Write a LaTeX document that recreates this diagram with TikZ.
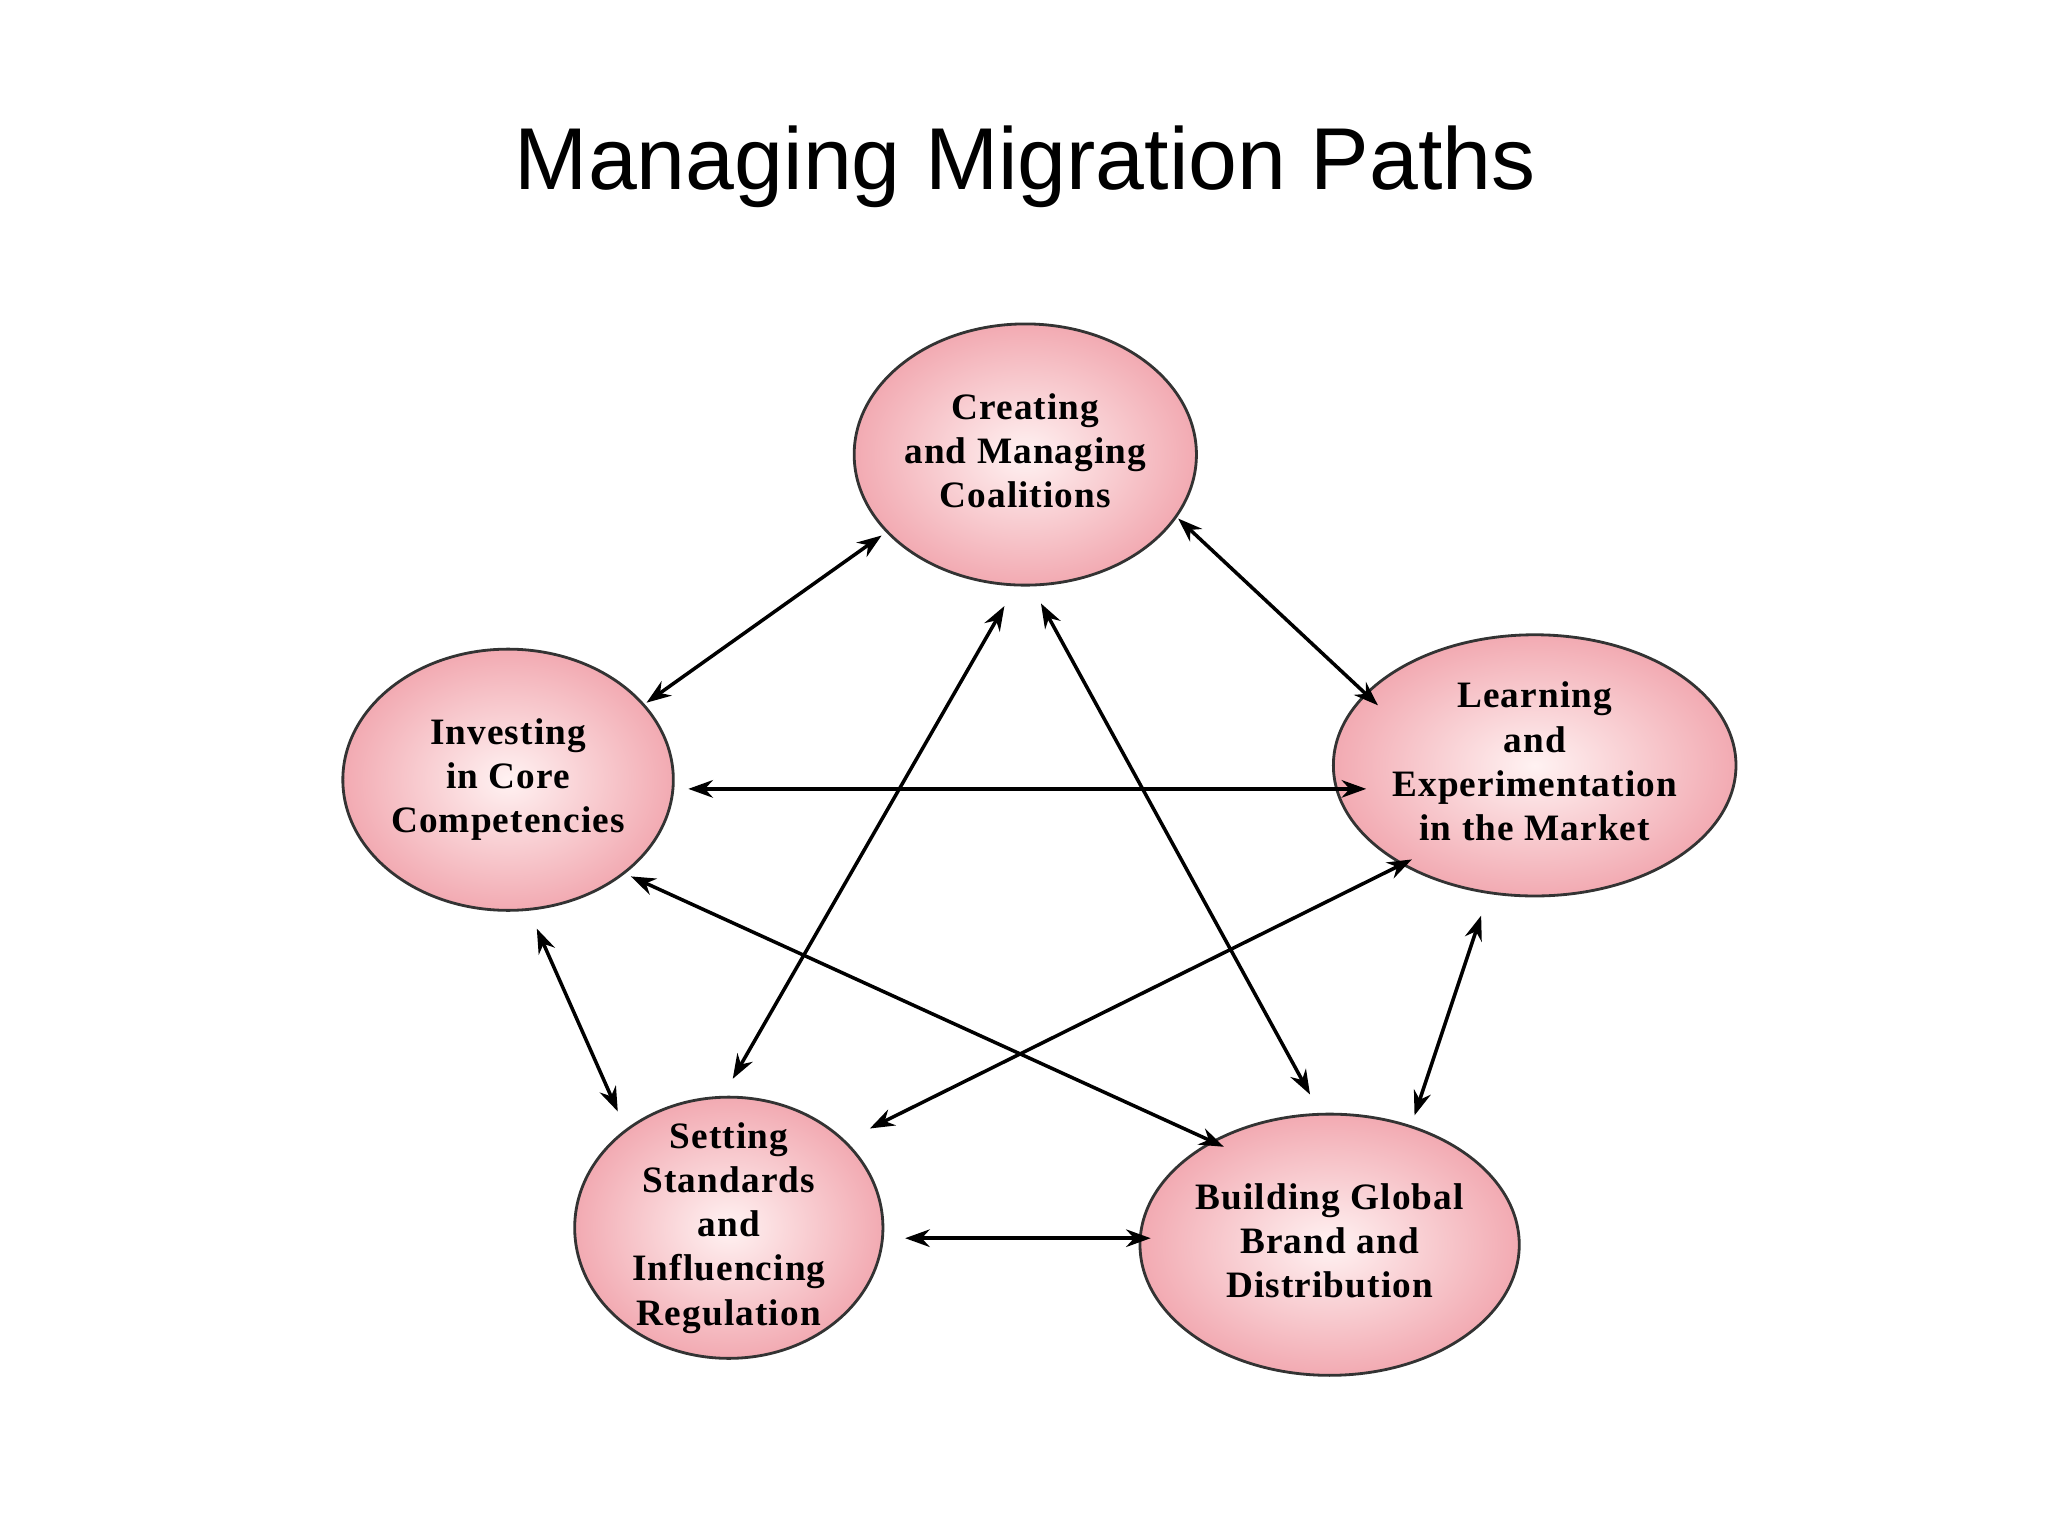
\documentclass[tikz,border=0pt]{standalone}
\usepackage{fontspec}
\setmainfont{Liberation Serif}
\newfontfamily\titlefont{Liberation Sans}
\usetikzlibrary{shapes.geometric,arrows.meta}
\definecolor{pinkin}{RGB}{255,242,242}
\definecolor{pinkout}{RGB}{242,170,178}
\newcommand{\blobtext}[1]{\vbox to 0pt{\vss\hbox{\begin{tabular}{@{}c@{}}#1\end{tabular}}\vss}}
\tikzset{
  blob/.style={ellipse, draw=black!80, line width=0.8pt, inner sep=0pt, outer sep=0pt,
    minimum width=236*0.01306cm, minimum height=200*0.01306cm,
    inner color=pinkin, outer color=pinkout, align=center,
    font=\fontsize{10.6}{12.6}\selectfont\bfseries\addfontfeature{LetterSpace=3}},
  link/.style={{Stealth[length=7pt,width=5pt]}-{Stealth[length=7pt,width=5pt]}, line width=1pt}
}
\begin{document}
\begin{tikzpicture}[x=0.01306cm,y=-0.01306cm]
\useasboundingbox (0,0) rectangle (1568,1176);
\node[font=\titlefont\fontsize{25}{28}\selectfont] (title) at (785,128) {Managing Migration Paths};
\node[blob] (top) at (785,348) {\blobtext{Creating\\and Managing\\Coalitions}};
\node[blob] (left) at (389,597) {\blobtext{Investing\\in Core\\Competencies}};
\node[blob] (right) at (1175,586) {\blobtext{Learning\\and\\Experimentation\\in the Market}};
\node[blob] (bl) at (558,940) {\blobtext{Setting\\Standards\\and\\Influencing\\Regulation}};
\node[blob] (br) at (1018,953) {\blobtext{Building Global\\Brand and\\Distribution}};
\coordinate (a1) at (675,410); \coordinate (b1) at (495,538);
\coordinate (a2) at (902,397); \coordinate (b2) at (1055,540);
\coordinate (a3) at (527,604); \coordinate (b3) at (1046,604);
\coordinate (a4) at (769,464); \coordinate (b4) at (561,826);
\coordinate (a5) at (797,462); \coordinate (b5) at (1003,838);
\coordinate (a6) at (483,671); \coordinate (b6) at (937,878);
\coordinate (a7) at (1081,658); \coordinate (b7) at (666,864);
\coordinate (a8) at (411,711); \coordinate (b8) at (473,851);
\coordinate (a9) at (1134,701); \coordinate (b9) at (1083,854);
\coordinate (a10) at (693,948); \coordinate (b10) at (881,948);
\foreach \i in {1,...,10} {\draw[link] (a\i) -- (b\i);}
\end{tikzpicture}
\end{document}
